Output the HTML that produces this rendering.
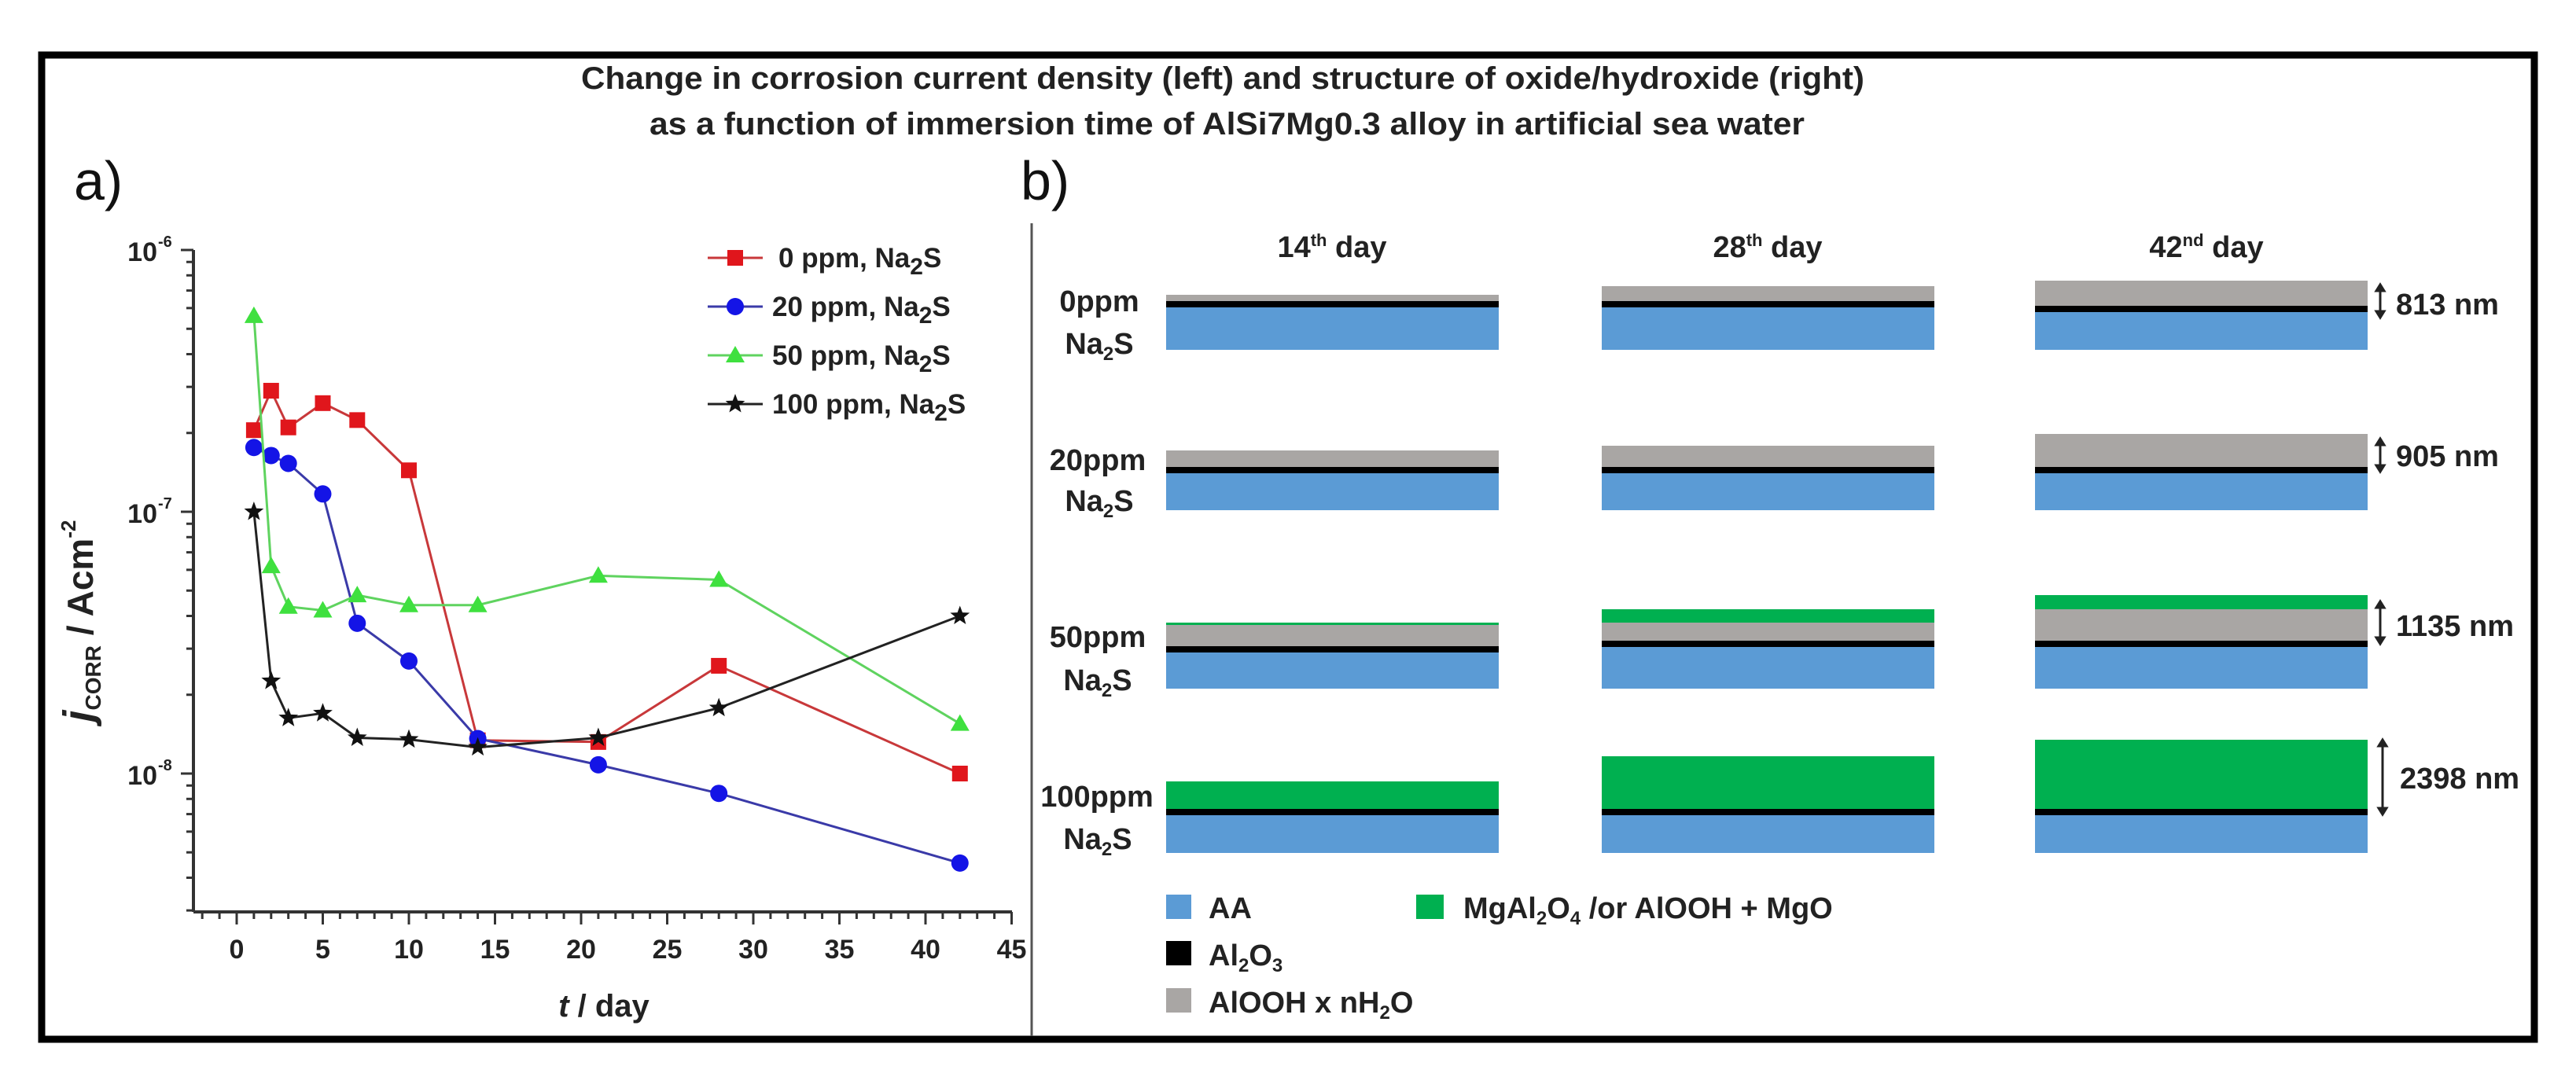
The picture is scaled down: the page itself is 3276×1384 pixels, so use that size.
<!DOCTYPE html>
<html><head><meta charset="utf-8"><style>
html,body{margin:0;padding:0;background:#fff;}
svg{display:block;font-family:"Liberation Sans",Arial,sans-serif;}
</style></head><body>
<svg id="fig" width="3276" height="1384" viewBox="0 0 3276 1384">
<rect x="0" y="0" width="3276" height="1384" fill="#fff"/>
<rect x="53" y="70" width="3170" height="1252" fill="none" stroke="#000" stroke-width="9"/>
<text x="739" y="113" textLength="1632" lengthAdjust="spacingAndGlyphs" font-size="40" font-weight="bold" fill="#222">Change in corrosion current density (left) and structure of oxide/hydroxide (right)</text>
<text x="826" y="171" textLength="1469" lengthAdjust="spacingAndGlyphs" font-size="40" font-weight="bold" fill="#222">as a function of immersion time of AlSi7Mg0.3 alloy in artificial sea water</text>
<text x="94" y="254" font-size="70" fill="#111">a)</text>
<text x="1298" y="254" font-size="70" fill="#111">b)</text>
<line x1="1312" y1="284" x2="1312" y2="1318" stroke="#555" stroke-width="3"/>

<g id="chart"></g>
<g id="schem"></g>

<!-- y axis title -->
<text transform="translate(118,790) rotate(-90)" text-anchor="middle" font-size="46" font-weight="bold" fill="#222"><tspan font-style="italic" font-size="54">j</tspan><tspan font-size="28" dy="10">CORR</tspan><tspan dy="-10"> / Acm</tspan><tspan font-size="26" dy="-22">-2</tspan></text>
<text x="768" y="1293" text-anchor="middle" font-size="40" font-weight="bold" fill="#222"><tspan font-style="italic">t</tspan> / day</text>
</svg>
<script>
const days = [1, 2, 3, 5, 7, 10, 14, 21, 28, 42];
const seriesNames = ["0 ppm, Na", "20 ppm, Na", "50 ppm, Na", "100 ppm, Na"];
const red0 = [2.05e-7, 2.9e-7, 2.1e-7, 2.6e-7, 2.24e-7, 1.44e-7, 1.34e-8, 1.32e-8, 2.58e-8, 1.0e-8];
const blue20 = [1.76e-7, 1.64e-7, 1.53e-7, 1.17e-7, 3.75e-8, 2.69e-8, 1.36e-8, 1.08e-8, 8.4e-9, 4.55e-9];
const green50 = [5.6e-7, 6.2e-8, 4.34e-8, 4.2e-8, 4.8e-8, 4.4e-8, 4.4e-8, 5.7e-8, 5.5e-8, 1.55e-8];
const black100 = [1.0e-7, 2.26e-8, 1.63e-8, 1.7e-8, 1.37e-8, 1.35e-8, 1.26e-8, 1.37e-8, 1.78e-8, 4.0e-8];
const xTicks = [0, 5, 10, 15, 20, 25, 30, 35, 40, 45];
const yTickExps = [-6, -7, -8];

const NS = "http://www.w3.org/2000/svg";
const X0 = 301, XPD = 21.9, AXL = 246, AXR = 1287, AXB = 1160, AXT = 318, DEC = 333;
function xs(d){ return X0 + d * XPD; }
function ys(v){ return AXT + (-6 - Math.log10(v)) * DEC; }
function mk(tag, attrs, parent){ const e = document.createElementNS(NS, tag); for (const k in attrs) e.setAttribute(k, attrs[k]); parent.appendChild(e); return e; }
const chart = document.getElementById('chart');

// axes
let ax = mk('line', {x1: AXL, y1: AXT, x2: AXL, y2: AXB, stroke: '#333', 'stroke-width': 4}, chart);


ax = mk('line', {x1: AXL, y1: AXB, x2: AXR, y2: AXB, stroke: '#333', 'stroke-width': 4}, chart);


for (let d = -2; d <= 45; d++) {
  const major = d % 5 === 0;
  const t = mk('line', {x1: xs(d), y1: AXB, x2: xs(d), y2: AXB + (major ? 16 : 9), stroke: '#333', 'stroke-width': 3}, chart);
  
  
}
xTicks.forEach(v => {
  const t = mk('text', {x: xs(v), y: 1219, 'text-anchor': 'middle', 'font-size': 34, 'font-weight': 'bold', fill: '#222'}, chart);
  t.textContent = v;
  
  
});
for (let e = -9; e <= -6; e++) {
  for (let m = 1; m <= 9; m++) {
    const v = m * Math.pow(10, e);
    const y = ys(v);
    if (y < AXT - 1 || y > AXB + 1) continue;
    const t = mk('line', {x1: AXL, y1: y, x2: AXL - (m === 1 ? 16 : 9), y2: y, stroke: '#333', 'stroke-width': 3}, chart);
    
    
  }
}
yTickExps.forEach(e => {
  const t = mk('text', {x: 200, y: ys(Math.pow(10, e)) + 14, 'text-anchor': 'end', 'font-size': 34, 'font-weight': 'bold', fill: '#222'}, chart);
  t.textContent = '10';
  
  
  const s = mk('text', {x: 201, y: ys(Math.pow(10, e)) - 4, 'font-size': 20, 'font-weight': 'bold', fill: '#222'}, chart);
  s.textContent = String(e);
  
  
});

function starPts(cx, cy, R){
  const r = R * 0.42; let p = [];
  for (let i = 0; i < 10; i++) { const a = -Math.PI/2 + i*Math.PI/5; const rr = i%2 ? r : R; p.push((cx + rr*Math.cos(a)).toFixed(1) + ',' + (cy + rr*Math.sin(a)).toFixed(1)); }
  return p.join(' ');
}
function marker(type, cx, cy, fill, parent, name){
  let m;
  if (type === 'square') m = mk('rect', {x: cx-10, y: cy-10, width: 20, height: 20, fill: fill}, parent);
  else if (type === 'circle') m = mk('circle', {cx: cx, cy: cy, r: 11, fill: fill}, parent);
  else if (type === 'tri') m = mk('polygon', {points: `${cx},${cy-12} ${cx+12},${cy+9} ${cx-12},${cy+9}`, fill: fill}, parent);
  else m = mk('polygon', {points: starPts(cx, cy, 13), fill: fill}, parent);
  
  
}
const series = [
  {vals: red0, line: '#c8383a', fill: '#e0161c', type: 'square', key: 'red'},
  {vals: blue20, line: '#3a3aa8', fill: '#1414e6', type: 'circle', key: 'blue'},
  {vals: green50, line: '#5fd35f', fill: '#3fe03f', type: 'tri', key: 'green'},
  {vals: black100, line: '#222', fill: '#111', type: 'star', key: 'black'}
];
series.forEach((s, si) => {
  const g = mk('g', {}, chart);
  
  
  const pts = days.map((d, i) => xs(d).toFixed(1) + ',' + ys(s.vals[i]).toFixed(1)).join(' ');
  const pl = mk('polyline', {points: pts, fill: 'none', stroke: s.line, 'stroke-width': 3}, g);
  
  
  days.forEach((d, i) => marker(s.type, xs(d), ys(s.vals[i]), s.fill, g, 'point-' + s.key));
  // legend
  const ly = 328 + si * 62;
  const lg = mk('g', {}, chart);
  
  
  mk('line', {x1: 900, y1: ly, x2: 970, y2: ly, stroke: s.line, 'stroke-width': 3}, lg);
  marker(s.type, 935, ly, s.fill, lg, 'legend-marker');
  const t = mk('text', {x: si === 0 ? 990 : 982, y: ly + 12, 'font-size': 35, 'font-weight': 'bold', fill: '#222'}, lg);
  t.innerHTML = seriesNames[si] + '<tspan font-size="30" dy="9">2</tspan><tspan dy="-9">S</tspan>';
});

// schematic
const colX = [1483, 2037, 2588];
const colW = 423;
const rowBlack = [[383,383,389],[594,594,594],[822,815,815],[1029,1029,1029]];
const rowBlueBottom = [445, 649, 876, 1085];
const grayTop = [[375,364,357],[573,567,552],[795,792,775],[null,null,null]];
const greenTop = [[null,null,null],[null,null,null],[792,775,757],[994,962,941]];
const sc = document.getElementById('schem');
for (let r = 0; r < 4; r++) for (let c = 0; c < 3; c++) {
  const g = mk('g', {}, sc);
  
  
  const x = colX[c], bk = rowBlack[r][c];
  if (greenTop[r][c] !== null) {
    const gb = grayTop[r][c] !== null ? grayTop[r][c] : bk;
    mk('rect', {x: x, y: greenTop[r][c], width: colW, height: gb - greenTop[r][c], fill: '#00b050'}, g);
  }
  if (grayTop[r][c] !== null) mk('rect', {x: x, y: grayTop[r][c], width: colW, height: bk - grayTop[r][c], fill: '#a9a6a4'}, g);
  mk('rect', {x: x, y: bk + 7, width: colW, height: rowBlueBottom[r] - bk - 7, fill: '#5b9bd5'}, g);
  mk('rect', {x: x, y: bk, width: colW, height: 8, fill: '#000'}, g);
}
</script>
<svg width="0" height="0"></svg>
<div style="position:absolute;left:0;top:0;width:3276px;height:1384px;pointer-events:none;">
<svg width="3276" height="1384" viewBox="0 0 3276 1384" style="position:absolute;left:0;top:0;font-family:'Liberation Sans',Arial,sans-serif;">
<g font-weight="bold" fill="#222" font-size="38">
<text x="1694" y="327" text-anchor="middle">14<tspan font-size="22" dy="-14">th</tspan><tspan dy="14"> day</tspan></text>
<text x="2248" y="327" text-anchor="middle">28<tspan font-size="22" dy="-14">th</tspan><tspan dy="14"> day</tspan></text>
<text x="2806" y="327" text-anchor="middle">42<tspan font-size="22" dy="-14">nd</tspan><tspan dy="14"> day</tspan></text>
<text x="1398" y="396" text-anchor="middle">0ppm</text>
<text x="1398" y="450" text-anchor="middle">Na<tspan font-size="24" dy="8">2</tspan><tspan dy="-8">S</tspan></text>
<text x="1396" y="598" text-anchor="middle">20ppm</text>
<text x="1398" y="650" text-anchor="middle">Na<tspan font-size="24" dy="8">2</tspan><tspan dy="-8">S</tspan></text>
<text x="1396" y="823" text-anchor="middle">50ppm</text>
<text x="1396" y="878" text-anchor="middle">Na<tspan font-size="24" dy="8">2</tspan><tspan dy="-8">S</tspan></text>
<text x="1395" y="1026" text-anchor="middle">100ppm</text>
<text x="1396" y="1080" text-anchor="middle">Na<tspan font-size="24" dy="8">2</tspan><tspan dy="-8">S</tspan></text>
<text x="3047" y="400">813 nm</text>
<text x="3047" y="593">905 nm</text>
<text x="3047" y="809">1135 nm</text>
<text x="3052" y="1003">2398 nm</text>
</g>
<g stroke="#222" stroke-width="3" fill="#222">
<line x1="3027" y1="368" x2="3027" y2="398"/><polygon points="3022,370 3032,370 3027,362"/><polygon points="3022,396 3032,396 3027,404"/>
<line x1="3027" y1="564" x2="3027" y2="594"/><polygon points="3022,566 3032,566 3027,558"/><polygon points="3022,592 3032,592 3027,600"/>
<line x1="3027" y1="771" x2="3027" y2="813"/><polygon points="3022,773 3032,773 3027,765"/><polygon points="3022,811 3032,811 3027,819"/>
<line x1="3030" y1="947" x2="3030" y2="1030"/><polygon points="3025,949 3035,949 3030,941"/><polygon points="3025,1028 3035,1028 3030,1036"/>
</g>
<g>
<rect x="1483" y="1138" width="32" height="31" fill="#5b9bd5"/>
<rect x="1483" y="1197" width="32" height="31" fill="#000"/>
<rect x="1483" y="1257" width="32" height="31" fill="#a9a6a4"/>
<rect x="1801" y="1138" width="35" height="31" fill="#00b050"/>
<g font-size="38" font-weight="bold" fill="#222">
<text x="1537" y="1168">AA</text>
<text x="1537" y="1228">Al<tspan font-size="24" dy="8">2</tspan><tspan dy="-8">O</tspan><tspan font-size="24" dy="8">3</tspan></text>
<text x="1537" y="1288">AlOOH x nH<tspan font-size="24" dy="8">2</tspan><tspan dy="-8">O</tspan></text>
<text x="1861" y="1168">MgAl<tspan font-size="24" dy="8">2</tspan><tspan dy="-8">O</tspan><tspan font-size="24" dy="8">4</tspan><tspan dy="-8"> /or AlOOH + MgO</tspan></text>
</g>
</g>
</svg>
</div>
</body></html>
